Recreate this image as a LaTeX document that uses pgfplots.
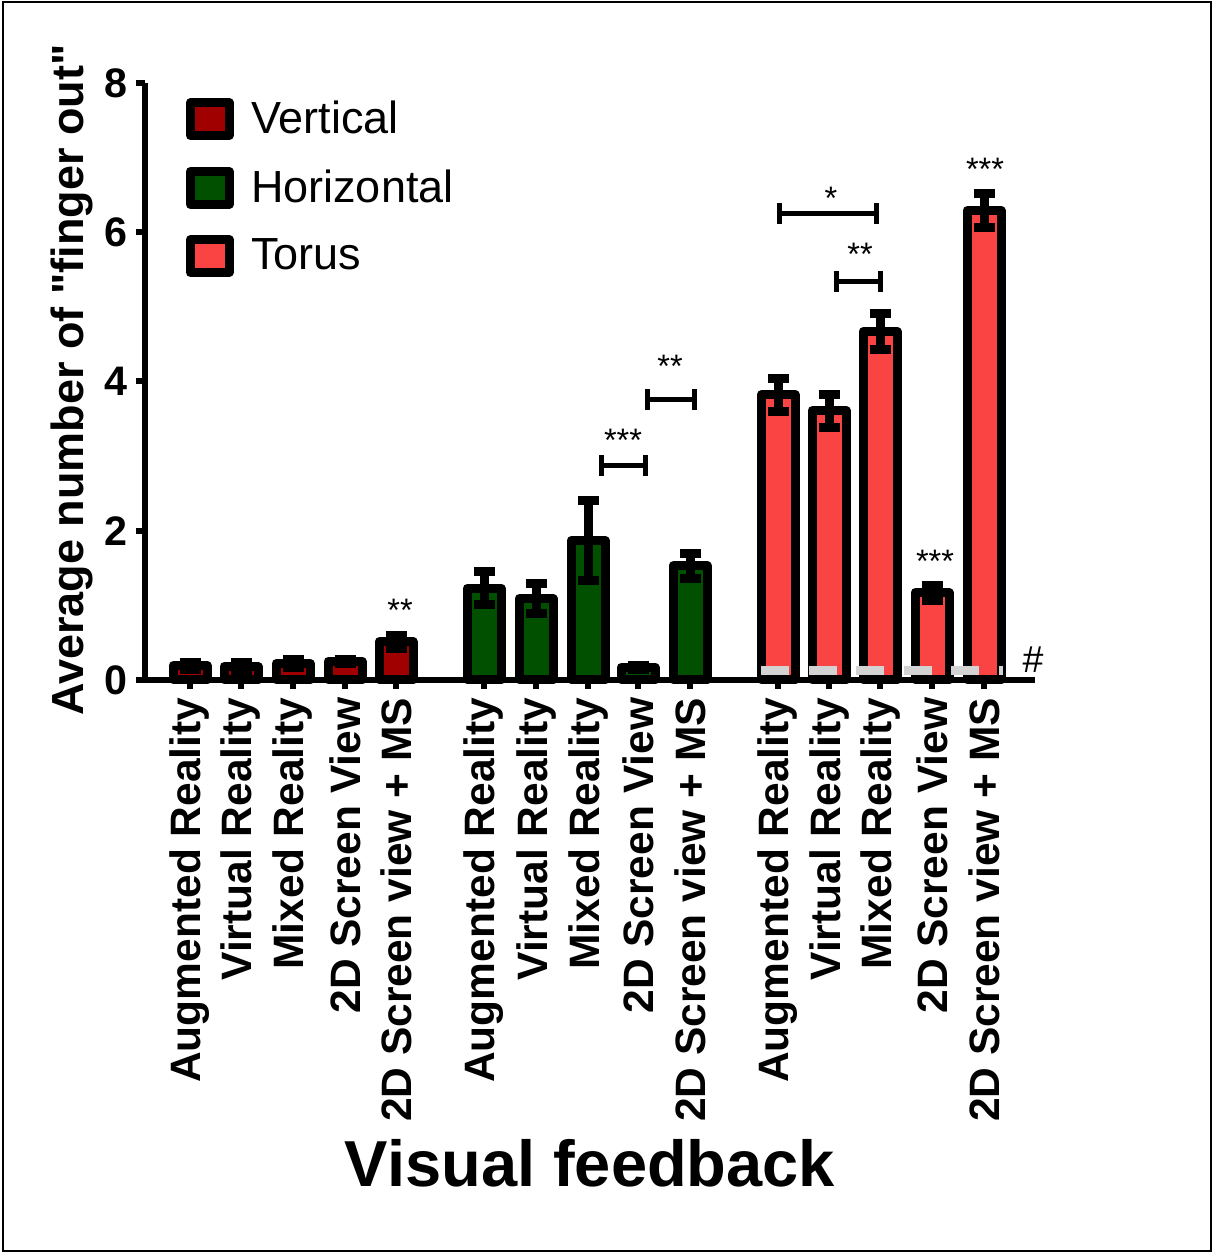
\documentclass[border=0pt]{standalone}
\usepackage{pgfplots}
\pgfplotsset{compat=1.18}
\usepackage{fontspec}
\setmainfont{Liberation Sans}[Ligatures=TeXOff]
\definecolor{vert}{HTML}{A00000}
\definecolor{horiz}{HTML}{005000}
\definecolor{torus}{HTML}{FA4444}
\definecolor{refgray}{HTML}{D3D3D3}

\pgfplotsset{
  barplot/.style={ybar, bar width=13.6pt, bar shift=0pt, draw=black,
    line width=3.6pt, line join=round, forget plot,
    error bars/y dir=both, error bars/y explicit,
    error bars/error bar style={line width=3.6pt, black},
    error bars/error mark options={rotate=90, line width=3.6pt, mark size=4.2pt, black}},
  bracket/.style={black, line width=2pt, mark=|, mark size=4.2pt,
    mark options={line width=2pt}, forget plot},
  legbox/.style={draw=black, line width=3.6pt, line join=round, fill=#1,
    legend image code/.code={\draw[##1] (0pt,-6.6pt) rectangle (15.4pt,6.6pt);}},
}
\newcommand{\stars}{\fontsize{13}{13}\selectfont}

\begin{document}
\begin{tikzpicture}
\begin{axis}[
  scale only axis, width=356pt, height=238.8pt,
  xmin=145, xmax=1035, ymin=0, ymax=8,
  clip=false,
  axis lines*=left,
  axis line style={line width=2.4pt, -},
  tick style={line width=2.4pt, black},
  tick align=outside, major tick length=3.6pt,
  ytick={0,2,4,6,8},
  xtick={190,241,293,345,396,484,536,588,638,690,778,829,880,932,984},
  xticklabels={Augmented Reality, Virtual Reality, Mixed Reality, 2D Screen View, 2D Screen view + MS,
               Augmented Reality, Virtual Reality, Mixed Reality, 2D Screen View, 2D Screen view + MS,
               Augmented Reality, Virtual Reality, Mixed Reality, 2D Screen View, 2D Screen view + MS},
  xticklabel style={rotate=90, anchor=east, font=\bfseries\fontsize{17}{17}\selectfont},
  yticklabel style={font=\bfseries\fontsize{16.5}{16.5}\selectfont},
  /pgf/number format/assume math mode=true,
  legend style={at={(axis cs:178,7.90)}, anchor=north west, draw=none, fill=none,
    font=\fontsize{18}{18}\selectfont, row sep=9pt,
    /tikz/every odd column/.append style={column sep=5pt}},
  legend cell align=left,
]
\addlegendimage{legbox=vert}
\addlegendentry{Vertical}
\addlegendimage{legbox=horiz}
\addlegendentry{Horizontal}
\addlegendimage{legbox=torus}
\addlegendentry{Torus}

% Vertical
\addplot[barplot, fill=vert] coordinates {
  (190,0.19) +- (0,0.05)
  (241,0.18) +- (0,0.05)
  (293,0.22) +- (0,0.05)
  (345,0.25) +- (0,0.03)
  (396,0.51) +- (0,0.09)
};
% Horizontal
\addplot[barplot, fill=horiz] coordinates {
  (484,1.23) +- (0,0.22)
  (536,1.09) +- (0,0.20)
  (588,1.87) +- (0,0.54)
  (638,0.17) +- (0,0.03)
  (690,1.53) +- (0,0.17)
};
% Torus
\addplot[barplot, fill=torus] coordinates {
  (778,3.82) +- (0,0.22)
  (829,3.61) +- (0,0.22)
  (880,4.67) +- (0,0.24)
  (932,1.17) +- (0,0.10)
  (984,6.29) +- (0,0.23)
};

% grey reference line
\addplot[refgray, line width=3.6pt, dash pattern=on 11.3pt off 7.7pt, forget plot]
  coordinates {(761,0.127) (1003,0.127)};

% significance brackets
\addplot[bracket] coordinates {(601,2.87) (645,2.87)};
\addplot[bracket] coordinates {(647,3.76) (694,3.76)};
\addplot[bracket] coordinates {(779,6.25) (876,6.25)};
\addplot[bracket] coordinates {(836,5.34) (880,5.34)};

\node[font=\stars, anchor=base] at (axis cs:400,0.78) {**};
\node[font=\stars, anchor=base] at (axis cs:623,3.06) {***};
\node[font=\stars, anchor=base] at (axis cs:670,4.06) {**};
\node[font=\stars, anchor=base] at (axis cs:831,6.30) {*};
\node[font=\stars, anchor=base] at (axis cs:860,5.56) {**};
\node[font=\stars, anchor=base] at (axis cs:985,6.69) {***};
\node[font=\stars, anchor=base] at (axis cs:935,1.44) {***};
\node[font=\fontsize{15}{15}\selectfont, anchor=base] at (axis cs:1033,0.094) {\#};

\node[rotate=90, font=\bfseries\fontsize{18}{18}\selectfont] at (axis cs:72,4.02)
  {Average number of "finger out"};
\node[font=\bfseries\fontsize{26}{26}\selectfont, anchor=base] at (axis cs:590,-6.79)
  {Visual feedback};

% outer frame
\path (axis cs:0,9.112) rectangle (axis cs:1212,-7.665);
\draw[line width=0.8pt] (axis cs:3,9.09) rectangle (axis cs:1210.5,-7.645);
\end{axis}
\end{tikzpicture}
\end{document}
